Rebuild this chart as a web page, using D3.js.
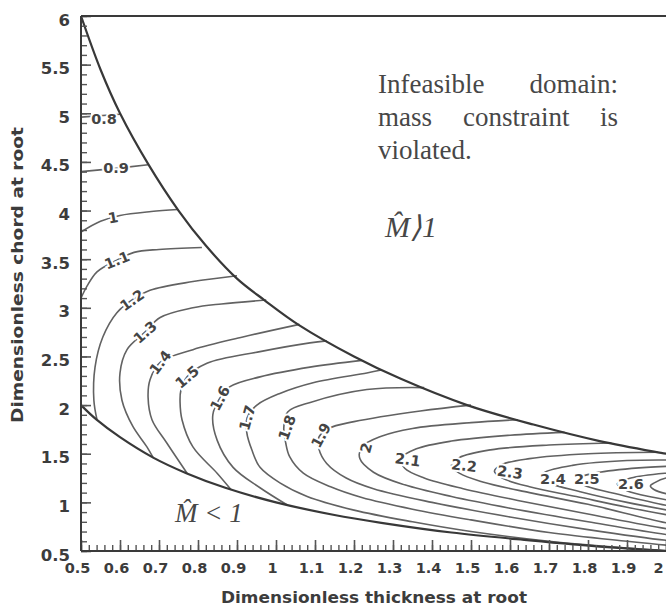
<!DOCTYPE html>
<html>
<head>
<meta charset="utf-8">
<script src="https://cdn.jsdelivr.net/npm/d3@7"></script>
<style>
  body { margin: 0; background: #fff; }
</style>
</head>
<body>
<svg id="chart" width="666" height="614"></svg>
<script>
// Axis ticks
const xTicks = [0.5, 0.6, 0.7, 0.8, 0.9, 1.0, 1.1, 1.2, 1.3, 1.4, 1.5, 1.6, 1.7, 1.8, 1.9, 2.0];
const xTickLabels = ["0.5", "0.6", "0.7", "0.8", "0.9", "1", "1.1", "1.2", "1.3", "1.4", "1.5", "1.6", "1.7", "1.8", "1.9", "2"];
const yTicks = [0.5, 1, 1.5, 2, 2.5, 3, 3.5, 4, 4.5, 5, 5.5, 6];
const yTickLabels = ["0.5", "1", "1.5", "2", "2.5", "3", "3.5", "4", "4.5", "5", "5.5", "6"];

// Feasible-domain limits [thickness, chord]
const upperBoundary = [[0.5, 6.0], [0.55, 5.45], [0.6, 5.0], [0.672, 4.48], [0.75, 4.0], [0.82, 3.64], [0.9, 3.3], [0.97, 3.08], [1.06, 2.82], [1.2, 2.5], [1.32, 2.27], [1.49, 2.0], [1.66, 1.8], [1.83, 1.63], [2.0, 1.5], [2.1, 1.43]];
const lowerBoundary = [[0.5, 2.0], [0.54, 1.85], [0.6, 1.67], [0.685, 1.46], [0.77, 1.3], [0.87, 1.15], [1.0, 1.0], [1.15, 0.87], [1.27, 0.79], [1.45, 0.69], [1.65, 0.61], [1.85, 0.54], [2.0, 0.5], [2.1, 0.47]];

// Iso-lines [thickness, chord]
const contourLevels = ["0.8", "0.9", "1", "1.1", "1.2", "1.3", "1.4", "1.5", "1.6", "1.7", "1.8", "1.9", "2", "2.1", "2.2", "2.3", "2.4", "2.5", "2.6", "2.7"];
const contourPaths = [
  [[0.5, 4.96], [0.6, 4.99]],
  [[0.5, 4.4], [0.58, 4.43], [0.672, 4.47]],
  [[0.5, 3.78], [0.55, 3.89], [0.6, 3.95], [0.68, 3.99], [0.748, 4.01]],
  [[0.81, 3.62], [0.7, 3.6], [0.636, 3.57], [0.592, 3.49], [0.541, 3.37], [0.515, 3.22], [0.5, 3.1]],
  [[0.9, 3.33], [0.787, 3.27], [0.677, 3.18], [0.631, 3.08], [0.592, 2.95], [0.556, 2.7], [0.536, 2.39], [0.533, 2.05], [0.541, 1.85]],
  [[0.975, 3.08], [0.86, 3.04], [0.787, 3.0], [0.703, 2.9], [0.664, 2.75], [0.618, 2.57], [0.6, 2.33], [0.605, 2.05], [0.633, 1.78], [0.669, 1.57], [0.685, 1.46]],
  [[1.06, 2.83], [0.915, 2.7], [0.787, 2.57], [0.703, 2.44], [0.677, 2.26], [0.672, 2.08], [0.682, 1.85], [0.72, 1.61], [0.772, 1.3]],
  [[1.13, 2.66], [1.087, 2.64], [0.959, 2.55], [0.823, 2.43], [0.772, 2.29], [0.756, 2.15], [0.754, 2.03], [0.759, 1.85], [0.787, 1.57], [0.849, 1.3], [0.885, 1.13]],
  [[1.22, 2.46], [1.087, 2.39], [0.959, 2.29], [0.882, 2.19], [0.856, 2.07], [0.838, 1.9], [0.849, 1.64], [0.89, 1.36], [0.959, 1.15], [1.03, 0.97]],
  [[1.27, 2.36], [1.233, 2.33], [1.095, 2.23], [1.01, 2.12], [0.951, 2.0], [0.926, 1.87], [0.925, 1.72], [0.938, 1.54], [0.959, 1.36], [1.01, 1.2], [1.08, 1.06], [1.2, 0.92], [1.35, 0.8], [1.5, 0.7], [1.7, 0.6], [1.9, 0.53], [2.0, 0.505]],
  [[1.38, 2.18], [1.233, 2.16], [1.09, 2.03], [1.03, 1.93], [1.02, 1.77], [1.025, 1.61], [1.035, 1.47], [1.07, 1.3], [1.14, 1.16], [1.22, 1.05], [1.35, 0.93], [1.5, 0.82], [1.7, 0.69], [1.9, 0.6], [2.0, 0.56], [2.1, 0.53]],
  [[1.5, 2.0], [1.37, 1.94], [1.2, 1.83], [1.135, 1.76], [1.11, 1.67], [1.11, 1.55], [1.13, 1.4], [1.18, 1.25], [1.25, 1.14], [1.4, 1.0], [1.6, 0.85], [1.8, 0.72], [2.0, 0.61], [2.1, 0.58]],
  [[1.62, 1.85], [1.5, 1.82], [1.35, 1.76], [1.27, 1.68], [1.22, 1.57], [1.215, 1.45], [1.25, 1.31], [1.33, 1.18], [1.45, 1.06], [1.6, 0.94], [1.8, 0.8], [2.0, 0.67], [2.1, 0.63]],
  [[1.74, 1.72], [1.6, 1.69], [1.45, 1.63], [1.36, 1.55], [1.32, 1.45], [1.33, 1.35], [1.38, 1.25], [1.48, 1.14], [1.62, 1.02], [1.8, 0.88], [2.0, 0.73], [2.1, 0.68]],
  [[1.86, 1.61], [1.7, 1.59], [1.55, 1.54], [1.47, 1.46], [1.45, 1.38], [1.47, 1.3], [1.53, 1.21], [1.65, 1.1], [1.8, 0.98], [2.0, 0.79], [2.1, 0.73]],
  [[1.98, 1.515], [1.8, 1.5], [1.65, 1.45], [1.58, 1.39], [1.56, 1.32], [1.58, 1.25], [1.65, 1.16], [1.77, 1.06], [1.9, 0.95], [2.1, 0.8]],
  [[2.1, 1.43], [1.9, 1.43], [1.76, 1.38], [1.69, 1.31], [1.68, 1.26], [1.7, 1.2], [1.78, 1.11], [1.9, 1.0], [2.1, 0.85]],
  [[2.1, 1.38], [1.95, 1.36], [1.83, 1.31], [1.78, 1.26], [1.77, 1.22], [1.8, 1.16], [1.88, 1.08], [2.0, 0.97], [2.1, 0.9]],
  [[2.1, 1.32], [2.0, 1.3], [1.91, 1.25], [1.875, 1.19], [1.9, 1.12], [1.97, 1.05], [2.1, 0.96]],
  [[2.1, 1.27], [2.0, 1.25], [1.97, 1.2], [1.96, 1.17], [1.97, 1.13], [2.0, 1.09], [2.1, 1.03]]
];

// In-line level labels: text, thickness, chord, angle
const contourLabels = [
  ["0.8", 0.559, 4.94, 0], ["0.9", 0.59, 4.44, 0], ["1", 0.582, 3.93, -10],
  ["1.1", 0.592, 3.49, -22], ["1.2", 0.631, 3.08, -35], ["1.3", 0.664, 2.75, -42],
  ["1.4", 0.703, 2.44, -52], ["1.5", 0.772, 2.29, -40], ["1.6", 0.856, 2.07, -62],
  ["1.7", 0.926, 1.87, -75], ["1.8", 1.028, 1.77, -70], ["1.9", 1.115, 1.69, -62],
  ["2", 1.231, 1.56, -75], ["2.1", 1.338, 1.44, 8], ["2.2", 1.482, 1.38, 6],
  ["2.3", 1.6, 1.31, 8], ["2.4", 1.71, 1.24, 0], ["2.5", 1.797, 1.24, 0],
  ["2.6", 1.91, 1.19, 0]
];

const svg = d3.select("#chart");
const plotLeft = 81, plotTop = 16, plotBottom = 551, plotRight = 666;
const x = d3.scaleLinear().domain([0.5, 2.0]).range([plotLeft, plotRight]);
const y = d3.scaleLinear().domain([0.5, 6]).range([plotBottom, plotTop]);

svg.append("defs").append("clipPath").attr("id", "plotArea")
  .append("rect").attr("x", plotLeft).attr("y", plotTop).attr("width", 700).attr("height", plotBottom - plotTop);

const line = d3.line()
  .x(d => x(d[0])).y(d => y(d[1]))
  .curve(d3.curveCatmullRom.alpha(0.5));

const plot = svg.append("g").attr("clip-path", "url(#plotArea)");

plot.selectAll("path.iso").data(contourPaths).join("path")
  .attr("class", "iso")
  .attr("d", line)
  .attr("fill", "none")
  .attr("stroke", "#626262")
  .attr("stroke-width", 1.6);

plot.selectAll("path.limit").data([upperBoundary, lowerBoundary]).join("path")
  .attr("class", "limit")
  .attr("d", line)
  .attr("fill", "none")
  .attr("stroke", "#383838")
  .attr("stroke-width", 2.2);

plot.selectAll("text.level").data(contourLabels).join("text")
  .attr("class", "level")
  .attr("transform", d => `translate(${x(d[1])},${y(d[2])}) rotate(${d[3]})`)
  .attr("text-anchor", "middle")
  .attr("dy", "0.36em")
  .attr("font-family", "DejaVu Sans, sans-serif")
  .attr("font-weight", "bold")
  .attr("font-size", 14.5)
  .attr("fill", "#444")
  .attr("stroke", "#fff")
  .attr("stroke-width", 4)
  .attr("paint-order", "stroke")
  .text(d => d[0]);

// Axes: ticks point into the plot
const tickFont = g => g.selectAll("text")
  .attr("font-family", "DejaVu Sans, sans-serif")
  .attr("font-weight", "bold")
  .attr("fill", "#3c3c3c");

const xMinor = d3.range(25, 106).map(i => i / 50);
svg.append("g").attr("transform", `translate(0,${plotBottom})`)
  .call(d3.axisBottom(x).tickValues(xMinor).tickSize(-6).tickFormat(""))
  .call(g => g.select(".domain").remove())
  .call(g => g.selectAll("line").attr("stroke", "#555").attr("stroke-width", 1.4));

svg.append("g").attr("transform", `translate(0,${plotBottom})`)
  .call(d3.axisBottom(x).tickValues(xTicks).tickSize(-11).tickPadding(12)
    .tickFormat((d, i) => xTickLabels[i]))
  .call(g => g.select(".domain").remove())
  .call(g => g.selectAll("line").attr("stroke", "#555").attr("stroke-width", 1.6))
  .call(tickFont)
  .call(g => g.selectAll("text").attr("font-size", 14.5)
    .attr("dx", (d, i) => i === xTicks.length - 1 ? -8 : -4));

const yMinor = d3.range(5, 61).map(i => i / 10);
svg.append("g").attr("transform", `translate(${plotLeft},0)`)
  .call(d3.axisLeft(y).tickValues(yMinor).tickSize(-6).tickFormat(""))
  .call(g => g.select(".domain").remove())
  .call(g => g.selectAll("line").attr("stroke", "#555").attr("stroke-width", 1.4));

svg.append("g").attr("transform", `translate(${plotLeft},0)`)
  .call(d3.axisLeft(y).tickValues(yTicks).tickSize(-10).tickPadding(11)
    .tickFormat((d, i) => yTickLabels[i]))
  .call(g => g.select(".domain").remove())
  .call(g => g.selectAll("line").attr("stroke", "#555").attr("stroke-width", 1.6))
  .call(tickFont)
  .call(g => g.selectAll("text").attr("font-size", 16.5).attr("dy", "0.55em"));

// Frame
const frame = svg.append("g").attr("stroke", "#3a3a3a").attr("stroke-width", 2).attr("fill", "none");
frame.append("line").attr("x1", plotLeft).attr("y1", plotTop).attr("x2", plotLeft).attr("y2", plotBottom);
frame.append("line").attr("x1", plotLeft).attr("y1", plotBottom).attr("x2", 700).attr("y2", plotBottom);
frame.append("line").attr("x1", plotLeft).attr("y1", plotTop).attr("x2", 700).attr("y2", plotTop);

// Axis titles
svg.append("text")
  .attr("x", 374).attr("y", 603)
  .attr("text-anchor", "middle")
  .attr("font-family", "DejaVu Sans, sans-serif")
  .attr("font-weight", "bold")
  .attr("font-size", 15)
  .attr("fill", "#3c3c3c")
  .attr("textLength", 306).attr("lengthAdjust", "spacingAndGlyphs")
  .text("Dimensionless thickness at root");

svg.append("text")
  .attr("transform", "translate(23,275) rotate(-90)")
  .attr("text-anchor", "middle")
  .attr("font-family", "DejaVu Sans, sans-serif")
  .attr("font-weight", "bold")
  .attr("font-size", 15)
  .attr("fill", "#3c3c3c")
  .attr("textLength", 296).attr("lengthAdjust", "spacingAndGlyphs")
  .text("Dimensionless chord at root");

// Region annotations
const note = svg.append("g")
  .attr("font-family", "Liberation Serif, Times New Roman, serif")
  .attr("font-size", 27)
  .attr("fill", "#474747");
note.append("text").attr("x", 378).attr("y", 93).text("Infeasible");
note.append("text").attr("x", 618).attr("y", 93).attr("text-anchor", "end").text("domain:");
note.append("text").attr("x", 378).attr("y", 126).text("mass");
note.append("text").attr("x", 463).attr("y", 126).text("constraint");
note.append("text").attr("x", 618).attr("y", 126).attr("text-anchor", "end").text("is");
note.append("text").attr("x", 378).attr("y", 159).text("violated.");

svg.append("text")
  .attr("x", 385).attr("y", 237)
  .attr("font-family", "Liberation Serif, serif")
  .attr("font-style", "italic")
  .attr("font-size", 30)
  .attr("fill", "#474747")
  .text("M\u0302\u27E91");

svg.append("text")
  .attr("x", 175).attr("y", 522)
  .attr("font-family", "Liberation Serif, serif")
  .attr("font-style", "italic")
  .attr("font-size", 27)
  .attr("fill", "#474747")
  .text("M\u0302 < 1");
</script>
</body>
</html>
